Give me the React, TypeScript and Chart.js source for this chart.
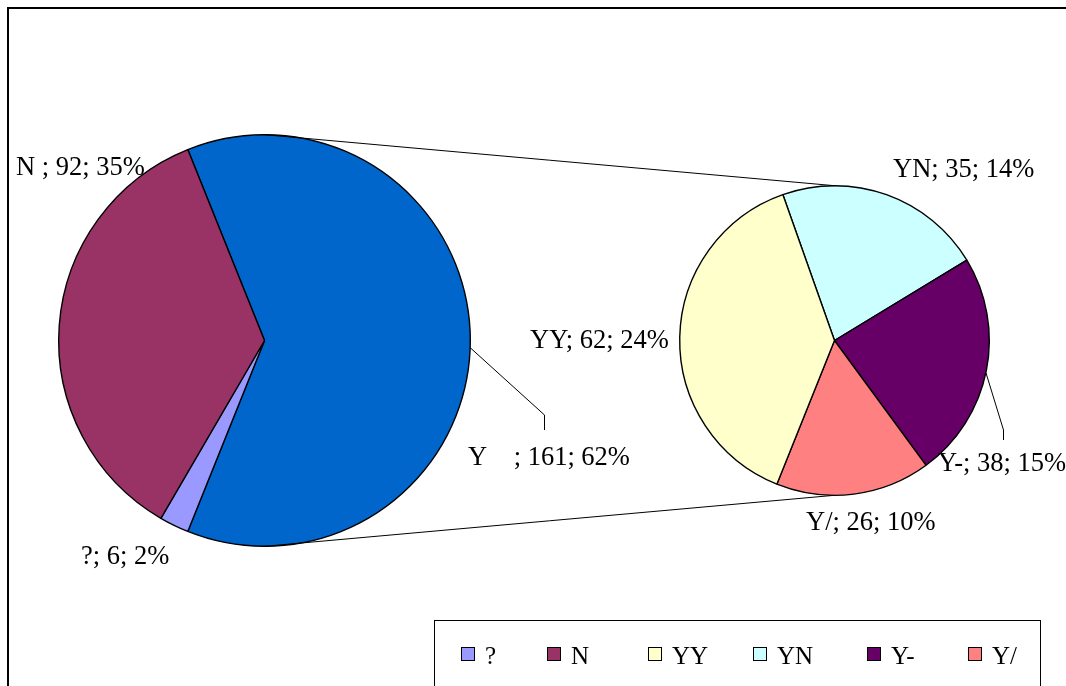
import React, { useEffect, useRef } from "react";
import { Chart, registerables } from "chart.js";

Chart.register(...registerables);

// ---- data ----
const mainLabels = ["Y", "?", "N"];
const mainValues = [161, 6, 92];
const mainPercents = [62, 2, 35];
const mainColors = ["#0066CC", "#9999FF", "#993366"];

const subLabels = ["YN", "Y-", "Y/", "YY"];
const subValues = [35, 38, 26, 62];
const subPercents = [14, 15, 10, 24];
const subColors = ["#CCFFFF", "#660066", "#FF8080", "#FFFFCC"];

const legendLabels = ["?", "N", "YY", "YN", "Y-", "Y/"];
const legendColors = ["#9999FF", "#993366", "#FFFFCC", "#CCFFFF", "#660066", "#FF8080"];

// ---- layout / style (not data) ----
const W = 1066;
const H = 686;
const FONT = '"Liberation Serif", "Times New Roman", serif';
const mainLabelPos: Record<string, { x: number; y: number; text?: string }> = {
  Y: { x: 468, y: 465, text: "Y    " },
  "?": { x: 81, y: 564 },
  N: { x: 16, y: 175, text: "N " },
};
const subLabelPos: Record<string, { x: number; y: number }> = {
  YN: { x: 893, y: 177 },
  "Y-": { x: 938, y: 471 },
  "Y/": { x: 806, y: 530 },
  YY: { x: 530, y: 348 },
};
const legendItemX = [461, 547, 648, 753, 867, 968];

function pt(arc: any, deg: number) {
  const a = (deg * Math.PI) / 180;
  return { x: arc.x + arc.outerRadius * Math.sin(a), y: arc.y - arc.outerRadius * Math.cos(a) };
}

export default function App() {
  const c1 = useRef<HTMLCanvasElement>(null);
  const c2 = useRef<HTMLCanvasElement>(null);

  useEffect(() => {
    document.body.style.margin = "0";
    const total = mainValues.reduce((a, b) => a + b, 0);
    const mainRotation = 90 - (mainValues[0] / total) * 180;

    const mainPlugin = {
      id: "mainDeco",
      beforeDraw(chart: any) {
        const ctx = chart.ctx;
        ctx.save();
        ctx.fillStyle = "#fff";
        ctx.fillRect(0, 0, W, H);
        ctx.strokeStyle = "#000";
        ctx.lineWidth = 2;
        ctx.strokeRect(8, 8, 1200, 800);
        ctx.restore();
      },
      afterDraw(chart: any) {
        const ctx = chart.ctx;
        const meta = chart.getDatasetMeta(0);
        const arc = meta.data[0];
        ctx.save();
        // leader line for Y
        const p = pt(arc, 92);
        ctx.strokeStyle = "#000";
        ctx.lineWidth = 1;
        ctx.beginPath();
        ctx.moveTo(p.x, p.y);
        ctx.lineTo(544.5, 415);
        ctx.lineTo(544.5, 430);
        ctx.stroke();
        ctx.font = `26.5px ${FONT}`;
        ctx.fillStyle = "#000";
        ctx.textBaseline = "alphabetic";
        mainLabels.forEach((l, i) => {
          const pos = mainLabelPos[l];
          const name = pos.text ?? l;
          ctx.fillText(`${name}; ${mainValues[i]}; ${mainPercents[i]}%`, pos.x, pos.y);
        });
        ctx.restore();
      },
    };

    const chart1 = new Chart(c1.current!, {
      type: "pie",
      data: {
        labels: mainLabels,
        datasets: [
          {
            data: mainValues,
            backgroundColor: mainColors,
            borderColor: "#000",
            borderWidth: 1.4,
          },
        ],
      },
      options: {
        responsive: false,
        maintainAspectRatio: false,
        devicePixelRatio: 1,
        animation: false,
        rotation: mainRotation,
        layout: { padding: { left: 58, top: 134, right: W - 471, bottom: H - 547 } },
        plugins: { legend: { display: false }, tooltip: { enabled: false } },
      },
      plugins: [mainPlugin],
    });

    const subPlugin = {
      id: "subDeco",
      afterDraw(chart: any) {
        const ctx = chart.ctx;
        const arc = chart.getDatasetMeta(0).data[0];
        const marc = chart1.getDatasetMeta(0).data[0] as any;
        ctx.save();
        ctx.strokeStyle = "#000";
        ctx.lineWidth = 1;
        // connector lines between pies
        const t1 = pt(marc, 0);
        const t2 = pt(arc, 0);
        const b1 = pt(marc, 180);
        const b2 = pt(arc, 180);
        ctx.beginPath();
        ctx.moveTo(t1.x, t1.y);
        ctx.lineTo(t2.x, t2.y);
        ctx.moveTo(b1.x, b1.y);
        ctx.lineTo(b2.x, b2.y);
        ctx.stroke();
        // leader for Y-
        const p = pt(arc, 102);
        ctx.beginPath();
        ctx.moveTo(p.x, p.y);
        ctx.lineTo(1003.5, 430);
        ctx.lineTo(1003.5, 440);
        ctx.stroke();
        // labels
        ctx.font = `26.5px ${FONT}`;
        ctx.fillStyle = "#000";
        ctx.textBaseline = "alphabetic";
        subLabels.forEach((l, i) => {
          const pos = subLabelPos[l];
          ctx.fillText(`${l}; ${subValues[i]}; ${subPercents[i]}%`, pos.x, pos.y);
        });
        // legend box
        ctx.fillStyle = "#fff";
        ctx.fillRect(434, 620, 606, 100);
        ctx.strokeRect(434.5, 620.5, 606, 100);
        ctx.font = `25px ${FONT}`;
        legendLabels.forEach((l, i) => {
          const x = legendItemX[i];
          ctx.fillStyle = legendColors[i];
          ctx.fillRect(x, 647, 14, 14);
          ctx.strokeStyle = "#000";
          ctx.strokeRect(x + 0.5, 647.5, 13, 13);
          ctx.fillStyle = "#000";
          ctx.fillText(l, x + 24, 664);
        });
        ctx.restore();
      },
    };

    const chart2 = new Chart(c2.current!, {
      type: "pie",
      data: {
        labels: subLabels,
        datasets: [
          {
            data: subValues,
            backgroundColor: subColors,
            borderColor: "#000",
            borderWidth: 1.4,
          },
        ],
      },
      options: {
        responsive: false,
        maintainAspectRatio: false,
        devicePixelRatio: 1,
        animation: false,
        rotation: -19.5,
        layout: { padding: { left: 679, top: 185, right: W - 990, bottom: H - 496 } },
        plugins: { legend: { display: false }, tooltip: { enabled: false } },
      },
      plugins: [subPlugin],
    });

    return () => {
      chart2.destroy();
      chart1.destroy();
    };
  }, []);

  const cs: React.CSSProperties = { position: "absolute", left: 0, top: 0, width: W, height: H };
  return (
    <div style={{ position: "fixed", left: 0, top: 0, width: W, height: H, overflow: "hidden", background: "#fff" }}>
      <canvas ref={c1} width={W} height={H} style={cs} />
      <canvas ref={c2} width={W} height={H} style={cs} />
    </div>
  );
}
